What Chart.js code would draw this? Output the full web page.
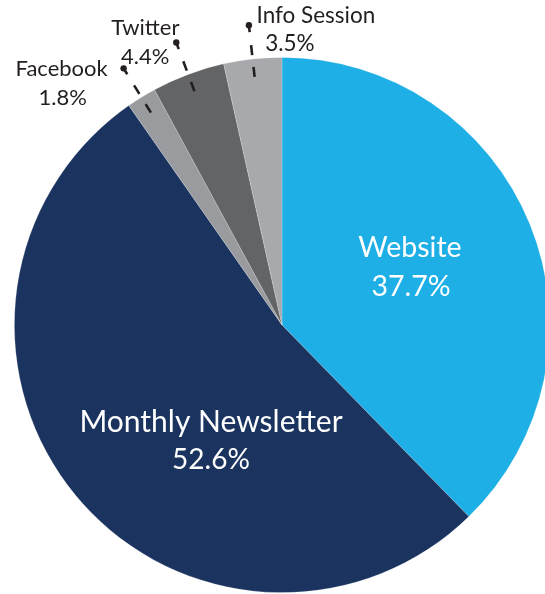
<!DOCTYPE html>
<html>
<head>
<meta charset="utf-8">
<script src="https://cdn.jsdelivr.net/npm/chart.js@4.4.1/dist/chart.umd.min.js"></script>
<style>
    html, body { margin: 0; padding: 0; background: #fff; overflow: hidden; }
    #wrap { position: absolute; left: 0; top: 0; width: 600px; height: 600px; }
</style>
</head>
<body>
<div id="wrap"><canvas id="pie"></canvas></div>
<script>
// --- DATA ---
const labels = ['Website', 'Monthly Newsletter', 'Facebook', 'Twitter', 'Info Session'];
const shares = [37.7, 52.6, 1.8, 4.4, 3.5];
const sliceColors = ['#1dafe5', '#1a335f', '#9a9b9e', '#636466', '#a8a9ac'];

// --- LABEL LAYOUT ---
// inside labels: offset from pie centre; outside labels: offset from leader dot
const TEXT_DARK = '#231f20';
const labelStyle = [
    { inside: true, font: 28.5, name: [128, -68], value: [129, -29] },
    { inside: true, font: 30, valueFont: 28, name: [-71, 107], value: [-71, 144] },
    { inside: false, font: 22, name: [-62, 8], value: [-61, 37] },
    { inside: false, font: 22, name: [-31, -8], value: [-31, 21] },
    { inside: false, font: 22.5, name: [67, -2], value: [41, 26] },
];

const pieLabels = {
    id: 'pieLabels',
    afterDatasetsDraw(chart) {
        const ctx = chart.ctx;
        const arcs = chart.getDatasetMeta(0).data;
        ctx.save();
        ctx.textAlign = 'center';
        ctx.textBaseline = 'alphabetic';
        arcs.forEach((arc, i) => {
            const { x, y, startAngle, endAngle, outerRadius } = arc.getProps(['x', 'y', 'startAngle', 'endAngle', 'outerRadius'], true);
            const style = labelStyle[i];
            const pct = shares[i].toFixed(1) + '%';
            let ox = x, oy = y;

            if (!style.inside) {
                const mid = (startAngle + endAngle) / 2;
                const cos = Math.cos(mid), sin = Math.sin(mid);
                const rDot = outerRadius + 34;
                // dashed leader
                ctx.strokeStyle = TEXT_DARK;
                ctx.lineWidth = 2.6;
                ctx.setLineDash([10, 12]);
                ctx.beginPath();
                ctx.moveTo(x + cos * (outerRadius + 14), y + sin * (outerRadius + 14));
                ctx.lineTo(x + cos * (outerRadius - 18), y + sin * (outerRadius - 18));
                ctx.stroke();
                ctx.setLineDash([]);
                // pin head
                ctx.beginPath();
                ctx.moveTo(x + cos * rDot, y + sin * rDot);
                ctx.lineTo(x + cos * (rDot - 7), y + sin * (rDot - 7));
                ctx.stroke();
                ctx.fillStyle = TEXT_DARK;
                ctx.beginPath();
                ctx.arc(x + cos * rDot, y + sin * rDot, 3.2, 0, Math.PI * 2);
                ctx.fill();
                ox = x + cos * rDot;
                oy = y + sin * rDot;
            }

            ctx.fillStyle = style.inside ? '#ffffff' : TEXT_DARK;
            ctx.font = style.font + 'px Lato';
            ctx.fillText(labels[i], ox + style.name[0], oy + style.name[1]);
            ctx.font = (style.valueFont || style.font) + 'px Lato';
            ctx.fillText(pct, ox + style.value[0], oy + style.value[1]);
        });
        ctx.restore();
    }
};

new Chart(document.getElementById('pie'), {
    type: 'pie',
    data: {
        labels: labels,
        datasets: [{
            data: shares,
            backgroundColor: sliceColors,
            borderColor: 'rgba(255,255,255,0.25)',
            borderWidth: 0.8
        }]
    },
    options: {
        responsive: true,
        maintainAspectRatio: false,
        animation: false,
        layout: { padding: { left: 14, right: 50, top: 57, bottom: 7 } },
        plugins: {
            legend: { display: false },
            tooltip: { enabled: false }
        }
    },
    plugins: [pieLabels]
});
</script>
</body>
</html>
